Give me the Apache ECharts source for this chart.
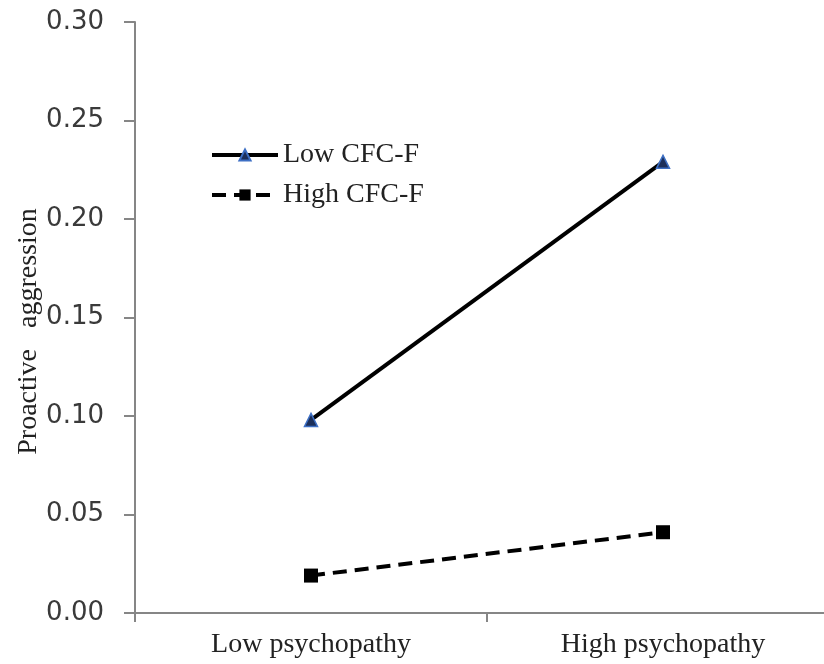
<!DOCTYPE html>
<html>
<head>
<meta charset="utf-8">
<script src="https://cdn.jsdelivr.net/npm/echarts@6/dist/echarts.min.js"></script>
<style>html,body{margin:0;padding:0;background:#fff;}#c{width:824px;height:664px;}</style>
</head>
<body>
<div id="c"></div>
<script>
var categories = ['Low psychopathy', 'High psychopathy'];
var seriesNames = ['Low CFC-F', 'High CFC-F'];
var lowCFC = [0.098, 0.229];
var highCFC = [0.019, 0.041];
var yTicks = { min: 0, max: 0.30, interval: 0.05 };
var yName = 'Proactive   aggression';

var chart = echarts.init(document.getElementById('c'));
var serif = 'Liberation Serif';
var axisGray = '#868686';
chart.setOption({
  animation: false,
  backgroundColor: '#ffffff',
  grid: { left: 135, top: 22, width: 704, height: 591, outerBoundsMode: 'none', containLabel: false },
  legend: {
    orient: 'vertical',
    left: 210,
    top: 141,
    padding: 0,
    itemWidth: 66,
    itemHeight: 14,
    itemGap: 12,
    lineStyle: { width: 4 },
    textStyle: { fontFamily: serif, fontSize: 28, color: '#222' },
    data: seriesNames
  },
  xAxis: {
    type: 'category',
    data: categories,
    boundaryGap: true,
    axisLine: { lineStyle: { color: axisGray, width: 2 } },
    axisTick: { show: true, length: 9, inside: false, lineStyle: { color: axisGray, width: 2 } },
    axisLabel: { fontFamily: serif, fontSize: 28, color: '#222', margin: 18 },
    splitLine: { show: false }
  },
  yAxis: {
    type: 'value',
    min: yTicks.min,
    max: yTicks.max,
    interval: yTicks.interval,
    name: yName,
    nameLocation: 'middle',
    nameGap: 92,
    nameMoveOverlap: false,
    nameTextStyle: { fontFamily: serif, fontSize: 28, color: '#222', padding: [0, 28, 0, 0] },
    axisLine: { show: true, lineStyle: { color: axisGray, width: 2 } },
    axisTick: { show: true, length: 11, lineStyle: { color: axisGray, width: 2 } },
    axisLabel: {
      fontFamily: 'DejaVu Sans', fontSize: 26, color: '#3a3a3a', margin: 31,
      formatter: function (v) { return v.toFixed(2); }
    },
    splitLine: { show: false }
  },
  series: [
    {
      name: seriesNames[0],
      type: 'line',
      data: lowCFC,
      symbol: 'triangle',
      symbolSize: 13,
      lineStyle: { color: '#000', width: 4, type: 'solid' },
      itemStyle: { color: '#1c2f5a', borderColor: '#3d6fc4', borderWidth: 1.5 }
    },
    {
      name: seriesNames[1],
      type: 'line',
      data: highCFC,
      symbol: 'rect',
      symbolSize: 14,
      lineStyle: { color: '#000', width: 4, type: [14, 8] },
      itemStyle: { color: '#000', borderColor: '#000', borderWidth: 0 }
    }
  ]
});
</script>
</body>
</html>
